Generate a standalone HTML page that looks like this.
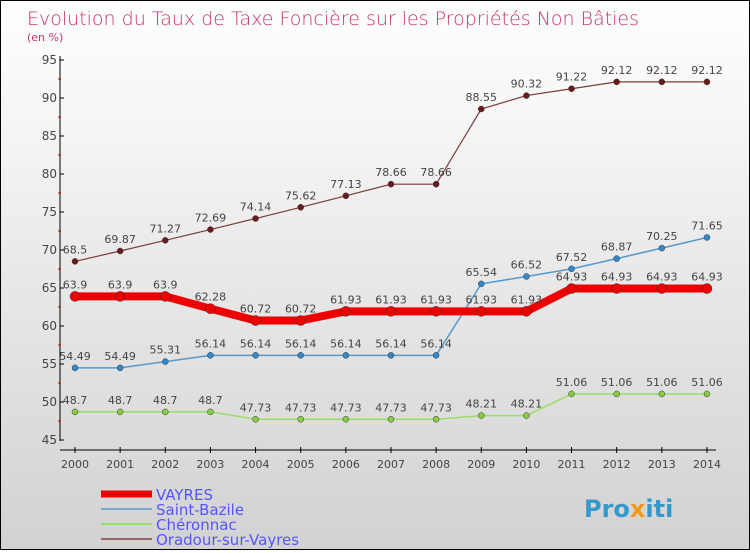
<!DOCTYPE html>
<html><head><meta charset="utf-8"><style>
body{margin:0}
#c{width:748px;height:548px;border:1px solid #000;background:linear-gradient(#ffffff,#d2d2d2);position:relative;font-family:"DejaVu Sans","Liberation Sans",sans-serif}
</style></head><body>
<div id="c">
<svg id="s" width="748" height="548">
<text x="26" y="24" font-size="19" fill="#c8336a" style="font-weight:200">Evolution du Taux de Taxe Foncière sur les Propriétés Non Bâties</text>
<text x="26" y="40" font-size="11" fill="#c8336a">(en %)</text>
<g id="axes"></g><g id="series"></g><g id="legend"></g>
<text x="583" y="516" font-size="24" font-weight="bold" fill="#3399cc">Pro<tspan fill="#f39c12">x</tspan>iti</text>
</svg></div>
<script>
const years=[2000,2001,2002,2003,2004,2005,2006,2007,2008,2009,2010,2011,2012,2013,2014];
const yTicks=[45,50,55,60,65,70,75,80,85,90,95];
const vayres=[63.9,63.9,63.9,62.28,60.72,60.72,61.93,61.93,61.93,61.93,61.93,64.93,64.93,64.93,64.93];
const saintBazile=[54.49,54.49,55.31,56.14,56.14,56.14,56.14,56.14,56.14,65.54,66.52,67.52,68.87,70.25,71.65];
const cheronnac=[48.7,48.7,48.7,48.7,47.73,47.73,47.73,47.73,47.73,48.21,48.21,51.06,51.06,51.06,51.06];
const oradour=[68.5,69.87,71.27,72.69,74.14,75.62,77.13,78.66,78.66,88.55,90.32,91.22,92.12,92.12,92.12];
const NS='http://www.w3.org/2000/svg';
const X=i=>74+i*45.14, Y=v=>59+(95-v)*7.6;
function mk(t,a,p){const e=document.createElementNS(NS,t);for(const k in a)e.setAttribute(k,a[k]);p.appendChild(e);return e;}
const ax=document.getElementById('axes');
let l=mk('line',{x1:59,y1:55,x2:59,y2:440,stroke:'#000'},ax);

l=mk('line',{x1:59,y1:449,x2:715,y2:449,stroke:'#000'},ax);

yTicks.forEach((v,i)=>{mk('line',{x1:59,y1:Y(v),x2:63,y2:Y(v),stroke:'#000'},ax);
 if(i<yTicks.length-1)mk('line',{x1:57,y1:Y(v+2.5),x2:60,y2:Y(v+2.5),stroke:'#c00'},ax);
 const t=mk('text',{x:56,y:Y(v)+4,'font-size':12,'text-anchor':'end',fill:'#444'},ax);t.textContent=v;
 });
years.forEach((y,i)=>{mk('line',{x1:X(i),y1:446,x2:X(i),y2:452,stroke:'#000'},ax);
 const t=mk('text',{x:X(i),y:467,'font-size':11,'text-anchor':'middle',fill:'#444'},ax);t.textContent=y;
 });
const sg=document.getElementById('series');
function series(d,col,w,pt,name,r){
 const p=mk('polyline',{points:d.map((v,i)=>X(i)+','+Y(v)).join(' '),fill:'none',stroke:col,'stroke-width':w},sg);
 
 d.forEach((v,i)=>{const c=mk('circle',{cx:X(i),cy:Y(v),r:r,fill:pt,stroke:'#333','stroke-width':0.5},sg);
  
  const t=mk('text',{x:X(i),y:Y(v)-8,'font-size':11,'text-anchor':'middle',fill:'#444'},sg);t.textContent=v;
  });}
series(oradour,'#7a3a3a',1.2,'#6a1a1a','oradour',3);
series(cheronnac,'#99dd66',1.5,'#88cc44','cheronnac',3);
series(saintBazile,'#5599cc',1.5,'#3388cc','saint-bazile',3);
series(vayres,'#ee0000',8,'#ee0000','vayres',5);
const lg=document.getElementById('legend');
[['VAYRES','#ee0000',7],['Saint-Bazile','#77aacc',2],['Chéronnac','#99dd66',2],['Oradour-sur-Vayres','#996666',2]].forEach((e,i)=>{
 const y=493+i*15;
 const ln=mk('line',{x1:100,y1:y,x2:151,y2:y,stroke:e[1],'stroke-width':e[2]},lg);
 
 const t=mk('text',{x:155,y:y+6,'font-size':15,fill:'#5555ff'},lg);t.textContent=e[0];
 });
</script></body></html>
